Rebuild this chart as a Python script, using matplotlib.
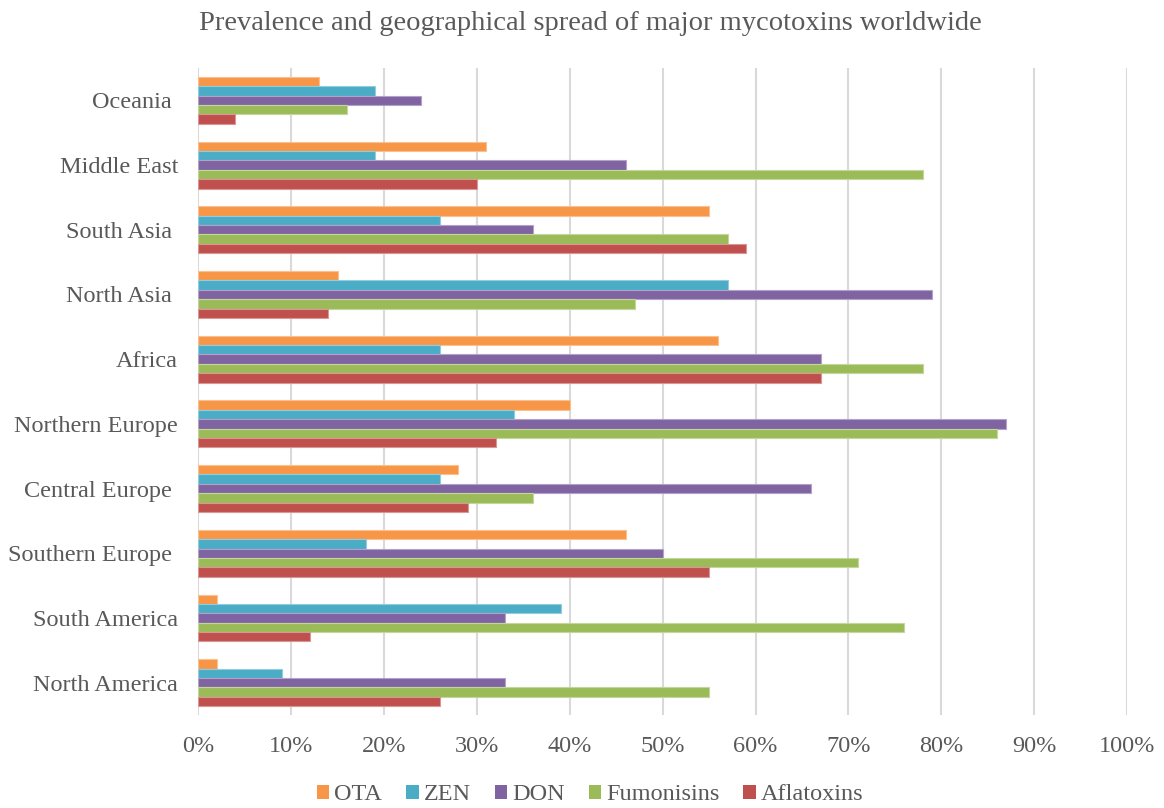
import matplotlib
matplotlib.use("Agg")
import matplotlib.pyplot as plt
import numpy as np
from matplotlib.patches import Patch

regions = ["North America", "South America", "Southern Europe ", "Central Europe ",
           "Northern Europe", "Africa", "North Asia ", "South Asia ", "Middle East", "Oceania "]
series_names = ["OTA", "ZEN", "DON", "Fumonisins", "Aflatoxins"]
ota        = [2, 2, 46, 28, 40, 56, 15, 55, 31, 13]
zen        = [9, 39, 18, 26, 34, 26, 57, 26, 19, 19]
don        = [33, 33, 50, 66, 87, 67, 79, 36, 46, 24]
fumonisins = [55, 76, 71, 36, 86, 78, 47, 57, 78, 16]
aflatoxins = [26, 12, 55, 29, 32, 67, 14, 59, 30, 4]
xticks = [0, 10, 20, 30, 40, 50, 60, 70, 80, 90, 100]
xtick_labels = ["0%", "10%", "20%", "30%", "40%", "50%", "60%", "70%", "80%", "90%", "100%"]
title = "Prevalence and geographical spread of major mycotoxins worldwide"

colors = ["#F79646", "#4BACC6", "#8064A2", "#9BBB59", "#C0504D"]
edges = ["#FAC090", "#93CDDD", "#B3A2C7", "#C3D69B", "#D99694"]
series = [ota, zen, don, fumonisins, aflatoxins]

plt.rcParams['font.family'] = ['Liberation Serif', 'DejaVu Serif']
txt = "#595959"

fig = plt.figure(figsize=(11.64, 8.08), dpi=100)
ax = fig.add_axes([0.1704, 0.1151, 0.9682 - 0.1704, 0.9158 - 0.1151])

y = np.arange(len(regions))
h = 0.145
for i, (vals, c, ec) in enumerate(zip(series, colors, edges)):
    offset = (2 - i) * h
    ax.barh(y + offset, vals, height=h, color=c, edgecolor=ec, linewidth=0.8,
            zorder=3, label=series_names[i])

ax.set_xlim(0, 100)
ax.set_ylim(-0.5, len(regions) - 0.5)
ax.set_xticks(xticks)
ax.set_xticklabels(xtick_labels, fontsize=17.5, color=txt)
ax.set_yticks(y)
ax.set_yticklabels(regions, fontsize=17.5, color=txt)
ax.tick_params(axis='both', length=0)
ax.tick_params(axis='x', pad=15)
ax.tick_params(axis='y', pad=14.5)
for s in ax.spines.values():
    s.set_visible(False)
ax.xaxis.grid(True, color="#D9D9D9", linewidth=1.5, zorder=0)
ax.set_axisbelow(True)

fig.text(0.507, 1 - 23 / 808, title, ha='center', va='center', fontsize=20.5, color=txt)

handles = [Patch(facecolor=c, edgecolor='none') for c in colors]
fig.legend(handles, series_names, loc='center', bbox_to_anchor=(0.507, 1 - 795 / 808),
           ncol=5, frameon=False, fontsize=17.5, handlelength=0.5, handleheight=0.5,
           handletextpad=0.2, columnspacing=1.0, labelcolor=txt)

fig.savefig("out.png", dpi=100)
